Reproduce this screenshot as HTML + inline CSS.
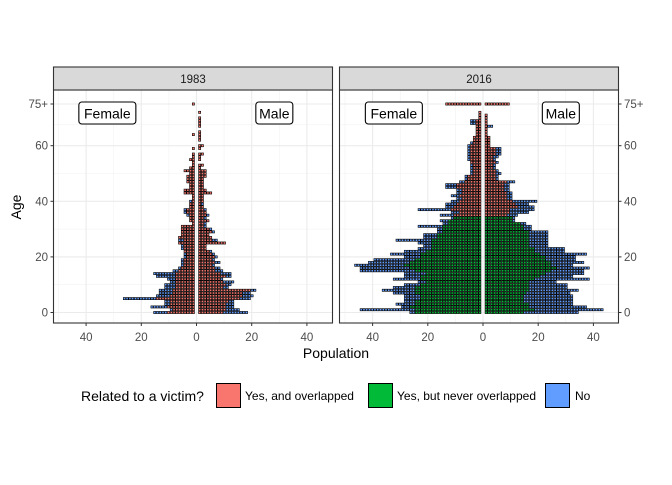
<!DOCTYPE html>
<html><head><meta charset="utf-8">
<style>
body{margin:0;background:#fff;}
svg text{font-family:"Liberation Sans",Arial,sans-serif;}
</style></head>
<body>
<svg id="chart" width="672" height="480" viewBox="0 0 672 480" xmlns="http://www.w3.org/2000/svg">
<rect x="0" y="0" width="672" height="480" fill="#fff"/>
<g id="layer"></g>
</svg>
<script>
// ---- data (counts of people per age, index = age 0..75, last = 75+) ----
const panels = ["1983", "2016"];
const yTickValues = [0, 20, 40, 60, 75];
const yTickLabels = ["0", "20", "40", "60", "75+"];
const xTickValues = [-40, -20, 0, 20, 40];
const xTickLabels = ["40", "20", "0", "20", "40"];
const categories = ["Yes, and overlapped", "Yes, but never overlapped", "No"];

const fem1983Total = [15,9,16,11,11,26,14,13,13,11,11,9,10,14,15,8,6,5,5,5,4,4,4,5,5,6,6,6,5,5,5,5,1,2,2,3,4,4,2,2,2,1,1,4,4,2,2,3,3,3,2,4,2,1,1,2,1,1,0,1,0,0,0,0,1,0,0,0,0,0,0,0,0,0,0,1];
const fem1983Inner = [10,8,10,9,9,14,9,8,8,7,7,7,7,7,7,6,5,4,4,4,3,3,4,4,4,6,4,6,5,5,5,5,1,2,2,2,3,3,2,2,1,1,1,4,4,2,2,3,3,3,2,4,2,1,1,2,1,1,0,1,0,0,0,0,1,0,0,0,0,0,0,0,0,0,0,1];
const male1983Total = [18,15,13,13,13,19,20,19,21,11,12,13,9,12,12,9,8,6,8,6,7,6,5,3,3,10,7,5,4,6,5,3,3,4,3,4,3,3,2,2,2,2,2,5,3,2,2,2,2,3,3,3,1,2,0,1,1,2,0,1,2,0,1,1,1,1,0,1,1,1,1,0,1,0,0,0];
const male1983Inner = [9,10,10,10,11,15,16,16,19,9,10,9,8,10,8,6,6,5,6,5,6,5,4,3,3,10,5,5,4,5,4,2,2,4,2,3,3,2,2,1,2,2,2,5,3,2,2,2,2,3,3,3,1,2,0,1,1,2,0,1,2,0,1,1,1,1,0,1,1,1,1,0,1,0,0,0];

const fem2016Total = [26,44,29,31,28,28,28,32,36,32,28,23,32,28,28,44,44,46,41,39,28,33,28,23,21,23,31,21,21,16,16,23,14,15,11,15,11,23,13,13,11,9,11,9,9,13,13,8,6,6,4,4,4,4,4,5,5,5,5,5,5,4,3,3,2,2,2,2,4,4,1,1,1,0,0,13];
const fem2016Inner = [24,24,26,24,24,22,22,24,24,24,22,20,22,22,20,24,26,28,26,24,22,22,20,18,18,18,18,16,16,14,14,14,12,12,10,10,8,11,10,9,8,7,8,7,7,9,9,6,5,5,3,3,3,3,4,4,4,4,4,4,4,3,3,3,2,2,2,2,2,2,1,1,1,0,0,13];
const male2016Total = [34,43,37,32,32,32,32,31,34,30,30,26,38,32,36,36,38,32,36,33,33,37,29,29,23,23,23,23,23,23,17,17,15,11,11,12,16,18,18,16,19,10,10,10,9,9,9,11,5,5,6,5,4,4,5,4,5,6,6,6,2,2,2,2,1,1,1,3,1,1,1,1,0,0,0,9];
const male2016Inner = [14,18,16,16,14,14,14,15,16,16,16,16,18,20,22,24,26,24,24,22,22,20,18,18,16,16,16,16,16,16,14,14,13,10,10,8,9,9,12,11,10,8,8,8,7,7,7,8,4,4,4,4,3,3,4,3,3,4,4,4,2,2,2,2,1,1,1,1,1,1,1,1,0,0,0,9];
// inner category: below this age the inner cells are "never overlapped" (green) in 2016
const greenCutoff2016 = 35;

// ---- layout ----
const NS = "http://www.w3.org/2000/svg";
const layer = document.getElementById("layer");
const colors = {red:"#F8766D", green:"#00BA38", blue:"#619CFF"};
const panelBoxes = [{x0:53.5, x1:332.5, zero:196.5}, {x0:339.5, x1:618.5, zero:483}];
const plotTop = 90, plotBottom = 323, stripTop = 67;
const y0 = 312.5, yPer = 2.78;
const xPer = 2.76, gap = 3.5;
function yScale(a){ return y0 - a*yPer; }
function xScale(p, v){ return panelBoxes[p].zero + v*xPer; }
function mk(tag, attrs, parent){ const e=document.createElementNS(NS,tag); for(const k in attrs) e.setAttribute(k,attrs[k]); (parent||layer).appendChild(e); return e; }

const sideData = [
  [{tot:fem1983Total, inn:fem1983Inner, sign:-1}, {tot:male1983Total, inn:male1983Inner, sign:1}],
  [{tot:fem2016Total, inn:fem2016Inner, sign:-1}, {tot:male2016Total, inn:male2016Inner, sign:1}]
];

panels.forEach((name, p) => {
  const b = panelBoxes[p];
  const g = mk("g", {});
  
  
  [-50,-30,-10,10,30,50].forEach(v=>{ const x=xScale(p,v); if(x>b.x0&&x<b.x1) mk("line",{x1:x,x2:x,y1:plotTop,y2:plotBottom,stroke:"#f2f2f2","stroke-width":0.6},g); });
  [10,30,50,67.5].forEach(v=>{ const y=yScale(v); mk("line",{x1:b.x0,x2:b.x1,y1:y,y2:y,stroke:"#f2f2f2","stroke-width":0.6},g); });
  xTickValues.forEach(v=>{ const x=xScale(p,v); mk("line",{x1:x,x2:x,y1:plotTop,y2:plotBottom,stroke:"#ebebeb","stroke-width":1.1},g); });
  yTickValues.forEach(v=>{ const y=yScale(v); mk("line",{x1:b.x0,x2:b.x1,y1:y,y2:y,stroke:"#ebebeb","stroke-width":1.1},g); });
  const cells = mk("g", {}, g);
  
  
  sideData[p].forEach(sd => {
    const c = xScale(p,0);
    for(let a=0; a<sd.tot.length; a++){
      const yc = yScale(a);
      for(let i=0;i<sd.tot[a];i++){
        let col;
        if(i < sd.inn[a]) col = (p===1 && a<greenCutoff2016) ? colors.green : colors.red;
        else col = colors.blue;
        const x = sd.sign<0 ? c - gap/2 - (i+1)*xPer : c + gap/2 + i*xPer;
        const r = mk("rect",{x:x+0.3,y:yc-yPer/2+0.3,width:xPer-0.6,height:yPer-0.6,fill:col,stroke:"#000","stroke-width":0.6},cells);
        
        
      }
    }
  });
  const br = mk("rect",{x:b.x0,y:plotTop,width:b.x1-b.x0,height:plotBottom-plotTop,fill:"none",stroke:"#333","stroke-width":1.1},g);
  
  
  const st = mk("rect",{x:b.x0,y:stripTop,width:b.x1-b.x0,height:plotTop-stripTop,fill:"#d9d9d9",stroke:"#333","stroke-width":1.1},g);
  
  
  const stt = mk("text",{x:(b.x0+b.x1)/2,y:83,"text-anchor":"middle","font-size":11.5,fill:"#1a1a1a"},g);
  stt.textContent = name;
  
  
  xTickValues.forEach((v,i)=>{ const x=xScale(p,v);
    mk("line",{x1:x,x2:x,y1:plotBottom,y2:plotBottom+3,stroke:"#333","stroke-width":1},g);
    const t=mk("text",{x:x,y:341,"text-anchor":"middle","font-size":11.5,fill:"#4d4d4d"},g);
    t.textContent = xTickLabels[i];
    
    
  });
  [["Female",-32.3,57],["Male",28.2,37]].forEach(([lab,v,w])=>{
    const x=xScale(p,v);
    const lg = mk("g",{},g);
    
    
    mk("rect",{x:x-w/2,y:102,width:w,height:22,rx:3,fill:"#fff",stroke:"#000","stroke-width":1.1},lg);
    const t=mk("text",{x:x,y:118.5,"text-anchor":"middle","font-size":14,fill:"#000"},lg);
    t.textContent=lab;
  });
});
yTickValues.forEach((v,i)=>{
  const y=yScale(v);
  mk("line",{x1:50.5,x2:53.5,y1:y,y2:y,stroke:"#333","stroke-width":1});
  const t=mk("text",{x:48,y:y+4,"text-anchor":"end","font-size":11.5,fill:"#4d4d4d"});
  t.textContent=yTickLabels[i];
  
  
  mk("line",{x1:618.5,x2:621.5,y1:y,y2:y,stroke:"#333","stroke-width":1});
  const t2=mk("text",{x:624,y:y+4,"text-anchor":"start","font-size":11.5,fill:"#4d4d4d"});
  t2.textContent=yTickLabels[i];
  
  
});
const yt=mk("text",{x:0,y:0,transform:"translate(21,207) rotate(-90)","text-anchor":"middle","font-size":14,fill:"#000"});
yt.textContent="Age";


const xt=mk("text",{x:336,y:358,"text-anchor":"middle","font-size":14,fill:"#000"});
xt.textContent="Population";


const lgd=mk("g",{});


const lt=mk("text",{x:81,y:401,"font-size":14,fill:"#000"},lgd);
lt.textContent="Related to a victim?";


const keyX=[216,368,545], txtX=[245,397,575], keyCols=[colors.red,colors.green,colors.blue];
categories.forEach((c,i)=>{
  const eg=mk("g",{},lgd);
  
  
  mk("rect",{x:keyX[i]+0.5,y:383.5,width:24,height:24,fill:keyCols[i],stroke:"#000","stroke-width":1},eg);
  const t=mk("text",{x:txtX[i],y:400,"font-size":12,fill:"#000"},eg);
  t.textContent=c;
});
</script>
</body></html>
